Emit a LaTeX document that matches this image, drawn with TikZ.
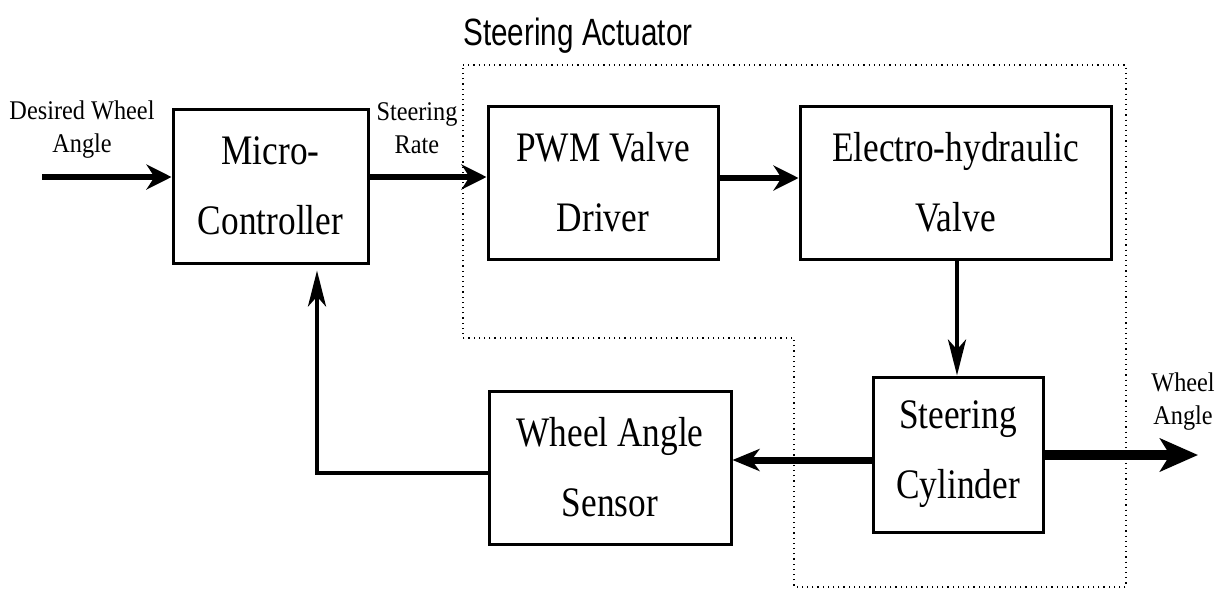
\documentclass[tikz,border=0pt]{standalone}
\usepackage{fontspec}
\setmainfont{Liberation Serif}
\newfontfamily\blockfont[FakeStretch=0.84]{Liberation Serif}
\newfontfamily\labelfont[FakeStretch=0.9]{Liberation Serif}
\newfontfamily\titlefont[FakeStretch=0.78]{Liberation Sans}
\usetikzlibrary{arrows.meta}
\begin{document}
\begin{tikzpicture}[x=0.5pt,y=-0.5pt,
  block/.style={draw, line width=1.5pt, inner sep=0pt, align=center,
    font=\blockfont\fontsize{21}{35}\selectfont},
  sig/.style={align=center, inner sep=0pt, font=\labelfont\fontsize{13.5}{16.5}\selectfont},
  flow/.style={line width=3.2pt, -{Stealth[length=12.5pt,width=12.5pt,inset=4pt]}},
  thinflow/.style={line width=2.2pt, -{Stealth[length=18pt,width=9pt,inset=5pt]}},
  midflow/.style={line width=3.5pt, -{Stealth[length=13.5pt,width=11pt,inset=4pt]}},
  bigflow/.style={line width=5pt, -{Stealth[length=19pt,width=16.5pt,inset=5pt]}},
  region/.style={dotted, line width=0.6pt}]
\useasboundingbox (0,0) rectangle (1220,589);

% steering actuator boundary
\draw[region] (463,65) -- (1126,65) -- (1126,587) -- (794,587) -- (794,338) -- (463,338) -- cycle;
\node[anchor=base, inner sep=0pt, font=\titlefont\fontsize{19}{22}\selectfont] (title) at (578,46) {Steering Actuator};

% blocks
\node[block, minimum width=97.5pt, minimum height=77pt] (micro) at (270.5,186) {Micro-\\Controller};
\node[block, minimum width=115pt, minimum height=76.5pt] (pwm) at (603,182.5) {PWM Valve\\Driver};
\node[block, minimum width=155.5pt, minimum height=76.5pt] (valve) at (955.5,182.5) {Electro-hydraulic\\Valve};
\node[block, minimum width=85pt, minimum height=77.5pt] (cyl) at (958,454.5) {Steering\\Cylinder};
\node[block, minimum width=121pt, minimum height=76.5pt] (sensor) at (610,467.5) {Wheel Angle\\Sensor};

% signal labels
\node[sig] (lin) at (82,130) {Desired Wheel\\Angle};
\node[sig] (lrate) at (417,128) {Steering\\Rate};
\node[sig] (lout) at (1183,402) {Wheel\\Angle};

% signal flow
\coordinate (in) at (42,177);
\coordinate (out) at (1198,455);
\draw[flow] (in) -- (in -| micro.west);
\draw[flow] (micro.east |- in) -- (pwm.west |- in);
\draw[flow] ([yshift=-0.5pt]pwm.east |- in) -- ([yshift=-0.5pt]valve.west |- in);
\draw[thinflow] ([xshift=0.75pt]valve.south) -- ([xshift=0.75pt]valve.south |- cyl.north);
\draw[midflow] ([yshift=-2.75pt]cyl.west) -- ([yshift=-2.75pt]cyl.west -| sensor.east);
\draw[bigflow] (cyl.east |- out) -- (out);
\draw[thinflow, shorten >=3pt] ([yshift=-2.75pt]sensor.west) -| ([xshift=23.25pt]micro.south);
\end{tikzpicture}
\end{document}
